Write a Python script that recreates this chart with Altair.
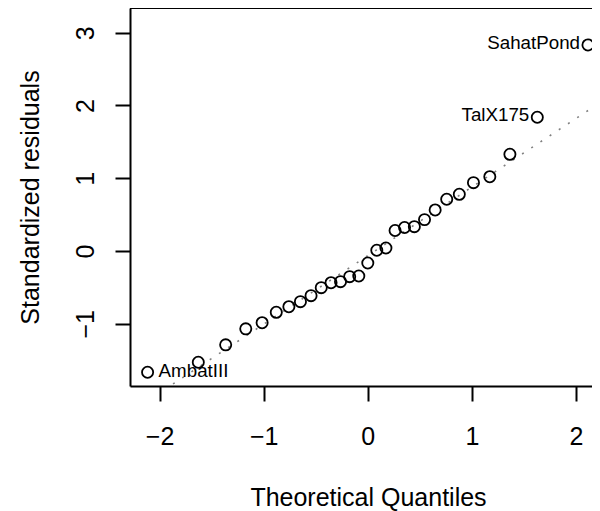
import altair as alt
import pandas as pd

# Theoretical quantiles (x) and standardized residuals (y)
theoretical = [-2.115, -1.628, -1.365, -1.172, -1.015, -0.879, -0.758, -0.647,
               -0.545, -0.447, -0.353, -0.262, -0.174, -0.0865, 0.0, 0.0865,
               0.174, 0.262, 0.353, 0.447, 0.545, 0.647, 0.758, 0.879, 1.015,
               1.172, 1.365, 1.628, 2.115]
residuals = [-1.667, -1.53, -1.29, -1.07, -0.986, -0.843, -0.766, -0.697,
             -0.614, -0.504, -0.436, -0.422, -0.353, -0.344, -0.165, 0.01,
             0.041, 0.282, 0.323, 0.334, 0.431, 0.564, 0.711, 0.779, 0.939,
             1.021, 1.329, 1.838, 2.832]
labels = ["AmbatIII"] + [""] * 26 + ["TalX175", "SahatPond"]
label_side = ["right"] + [""] * 26 + ["left", "left"]

# reference (qq) line endpoints
qq_x = [-2.4, 2.4]
qq_y = [-2.327, 2.199]

x_ticks = [-2, -1, 0, 1, 2]
y_ticks = [-1, 0, 1, 2, 3]

df = pd.DataFrame({"x": theoretical, "y": residuals, "label": labels, "side": label_side})
line_df = pd.DataFrame({"x": [qq_x[0]], "y": [qq_y[0]], "x2": [qq_x[1]], "y2": [qq_y[1]]})

FONT = "Liberation Sans"
W, H = 462, 378

xscale = alt.Scale(domain=[-2.284, 2.1535], nice=False, zero=False)
yscale = alt.Scale(domain=[-1.856, 3.34], nice=False, zero=False)

xaxis = alt.Axis(values=x_ticks, format="d", tickSize=15, tickWidth=2, tickColor="black",
                 domainColor="black", domainWidth=2, grid=False,
                 labelPadding=23, labelFontSize=25, labelFont=FONT, labelColor="black",
                 labelFlush=False, labelOverlap=False,
                 title="Theoretical Quantiles", titleFontSize=25, titleFont=FONT,
                 titleFontWeight="normal", titleColor="black",
                 titleX=238, titleY=119, titleBaseline="alphabetic", titleAlign="center")
yaxis = alt.Axis(values=y_ticks, format="d", tickSize=15, tickWidth=2, tickColor="black",
                 domainColor="black", domainWidth=2, grid=False,
                 labelPadding=22, labelFontSize=25, labelFont=FONT, labelColor="black",
                 labelAngle=270, labelAlign="center", labelBaseline="alphabetic",
                 labelFlush=False, labelOverlap=False,
                 title="Standardized residuals", titleFontSize=25, titleFont=FONT,
                 titleFontWeight="normal", titleColor="black", titleAngle=270,
                 titleX=-92, titleY=189, titleBaseline="alphabetic", titleAlign="center")

qq = alt.Chart(line_df).mark_rule(clip=True, color="#808080", strokeWidth=1.6,
                                  strokeDash=[2, 9]).encode(
    x=alt.X("x:Q", scale=xscale, axis=xaxis),
    y=alt.Y("y:Q", scale=yscale, axis=yaxis),
    x2="x2:Q", y2="y2:Q")

pts = alt.Chart(df).mark_point(shape="circle", filled=False, color="black",
                               size=125, strokeWidth=1.8, opacity=1).encode(
    x=alt.X("x:Q", scale=xscale), y=alt.Y("y:Q", scale=yscale))

lab_left = alt.Chart(df).transform_filter(alt.datum.side == "left").mark_text(
    align="right", baseline="alphabetic", dx=-8, dy=4, fontSize=18.75, font=FONT,
    color="black").encode(x=alt.X("x:Q", scale=xscale), y=alt.Y("y:Q", scale=yscale),
                          text="label:N")
lab_right = alt.Chart(df).transform_filter(alt.datum.side == "right").mark_text(
    align="left", baseline="alphabetic", dx=11, dy=4.5, fontSize=18.75, font=FONT,
    color="black").encode(x=alt.X("x:Q", scale=xscale), y=alt.Y("y:Q", scale=yscale),
                          text="label:N")

top_border = alt.Chart(df).mark_rule(color="black", strokeWidth=2).encode(
    x=alt.value(0), x2=alt.value(W), y=alt.value(0))

chart = alt.layer(qq, pts, lab_left, lab_right, top_border).properties(
    width=W, height=H,
    autosize=alt.AutoSizeParams(type="none"),
    padding={"left": 122, "top": 0, "right": 0, "bottom": 125},
).configure_view(stroke=None).configure(background="white")

chart.save("out.html", embed_options={"renderer": "svg", "actions": False})
